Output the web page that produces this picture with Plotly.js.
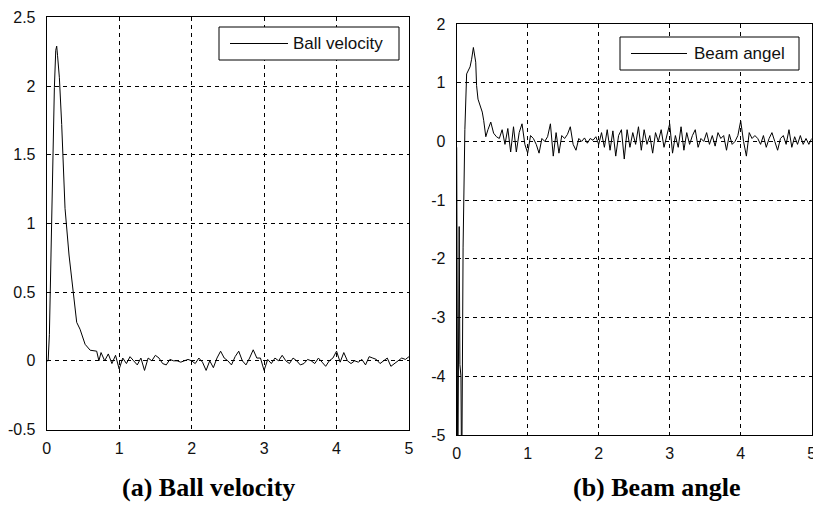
<!DOCTYPE html>
<html>
<head>
<meta charset="utf-8">
<script src="https://cdn.plot.ly/plotly-3.0.1.min.js"></script>
<style>html,body{margin:0;padding:0;background:#fff;}#chart{width:813px;height:513px;}</style>
</head>
<body>
<div id="chart"></div>
<script>
// ---------- data ----------
const ballTime = [0, 0.02, 0.037, 0.055, 0.078, 0.106, 0.125, 0.138, 0.15, 0.175, 0.207, 0.253, 0.308, 0.368, 0.414, 0.46, 0.5, 0.53, 0.6, 0.69, 0.72,
  0.75, 0.8, 0.85, 0.9, 0.95,
  1.0, 1.05, 1.1, 1.15, 1.2, 1.25, 1.3, 1.35, 1.4, 1.45, 1.5, 1.55, 1.6, 1.65, 1.7, 1.75, 1.8, 1.85, 1.9, 1.95,
  2.0, 2.05, 2.1, 2.15, 2.2, 2.25, 2.3, 2.35, 2.4, 2.45, 2.5, 2.55, 2.6, 2.65, 2.7, 2.75, 2.8, 2.85, 2.9, 2.95,
  3.0, 3.05, 3.1, 3.15, 3.2, 3.25, 3.3, 3.35, 3.4, 3.45, 3.5, 3.55, 3.6, 3.65, 3.7, 3.75, 3.8, 3.85, 3.9, 3.95,
  4.0, 4.05, 4.1, 4.15, 4.2, 4.25, 4.3, 4.35, 4.4, 4.45, 4.5, 4.55, 4.6, 4.65, 4.7, 4.75, 4.8, 4.85, 4.9, 4.95, 5.0];
const ballVelocity = [0, 0.0, 0.19, 0.73, 1.43, 1.99, 2.26, 2.29, 2.22, 2.06, 1.72, 1.11, 0.77, 0.48, 0.28, 0.23, 0.16, 0.12, 0.077, 0.07, 0.0,
  0.06, 0.0, 0.05, -0.02, 0.04,
  -0.06, 0.02, -0.02, 0.03, 0.0, -0.03, 0.02, -0.07, 0.02, 0.0, 0.04, 0.02, -0.02, -0.03, 0.01, 0.0, 0.0, -0.01, 0.0, 0.01,
  0.0, -0.02, 0.02, -0.01, -0.07, 0.0, -0.05, 0.02, 0.07, 0.02, 0.0, -0.03, 0.03, 0.07, 0.0, -0.03, 0.02, 0.08, 0.02, 0.02,
  -0.07, 0.01, -0.02, 0.02, 0.0, 0.04, 0.0, -0.02, 0.02, 0.0, -0.03, -0.02, 0.01, 0.0, -0.02, 0.02, -0.01, -0.04, 0.0, 0.02,
  0.07, -0.01, 0.06, 0.0, -0.02, 0.0, -0.01, 0.01, -0.03, 0.03, 0.02, 0.01, -0.02, 0.0, 0.02, -0.04, -0.02, 0.0, 0.02, 0.01, 0.03];

const beamTime = [0, 0.015, 0.035, 0.045, 0.06, 0.07, 0.09, 0.115, 0.14, 0.16, 0.188, 0.21, 0.235, 0.268, 0.28, 0.3, 0.33, 0.36, 0.38, 0.41,
  0.44, 0.48, 0.52, 0.56, 0.6, 0.64, 0.68, 0.72, 0.76, 0.8, 0.84, 0.88, 0.92, 0.96,
  1.0, 1.04, 1.08, 1.12, 1.16, 1.2, 1.24, 1.28, 1.32, 1.36, 1.4, 1.44, 1.48, 1.52, 1.56, 1.6, 1.64, 1.68, 1.72, 1.76, 1.8, 1.84, 1.88, 1.92, 1.96,
  2.0, 2.04, 2.08, 2.12, 2.16, 2.2, 2.24, 2.28, 2.32, 2.36, 2.4, 2.44, 2.48, 2.52, 2.56, 2.6, 2.64, 2.68, 2.72, 2.76, 2.8, 2.84, 2.88, 2.92, 2.96,
  3.0, 3.04, 3.08, 3.12, 3.16, 3.2, 3.24, 3.28, 3.32, 3.36, 3.4, 3.44, 3.48, 3.52, 3.56, 3.6, 3.64, 3.68, 3.72, 3.76, 3.8, 3.84, 3.88, 3.92, 3.96,
  4.0, 4.04, 4.08, 4.12, 4.16, 4.2, 4.24, 4.28, 4.32, 4.36, 4.4, 4.44, 4.48, 4.52, 4.56, 4.6, 4.64, 4.68, 4.72, 4.76, 4.8, 4.84, 4.88, 4.92, 4.96, 5.0];
const beamAngle = [-0.1, -6, -1.45, -3.8, -4.0, -6, -1.8, 0.2, 1.15, 1.2, 1.27, 1.4, 1.6, 1.35, 0.95, 0.72, 0.62, 0.5, 0.36, 0.08,
  0.2, 0.33, 0.14, 0.08, 0.05, 0.2, -0.05, 0.22, -0.18, 0.25, -0.18, 0.15, 0.3, -0.05,
  -0.2, 0.1, 0.05, -0.05, -0.2, 0.05, 0.0, 0.08, 0.3, -0.25, 0.15, -0.2, 0.1, 0.05, 0.12, 0.25, -0.05, -0.15, 0.05, 0.0, 0.06, -0.03, 0.05, 0.02, 0.08,
  -0.05, 0.15, -0.1, 0.2, -0.15, 0.18, -0.25, 0.1, 0.2, -0.3, 0.2, -0.1, 0.15, -0.05, 0.25, -0.15, 0.2, -0.05, 0.1, -0.2, 0.15, 0.0, 0.2, -0.1, 0.1,
  0.3, -0.2, 0.1, -0.1, 0.25, -0.15, 0.15, -0.05, 0.1, 0.2, -0.1, 0.05, 0.0, 0.15, -0.05, 0.1, -0.08, 0.15, 0.05, 0.1, -0.15, 0.12, -0.05, 0.0, 0.1,
  0.35, 0.0, -0.25, 0.15, 0.05, 0.1, 0.05, -0.05, 0.1, -0.1, 0.05, 0.15, 0.0, -0.15, 0.05, 0.1, -0.05, 0.2, -0.1, 0.08, -0.05, 0.1, -0.05, 0.05, -0.05, 0.05];

const xTickVals = [0, 1, 2, 3, 4, 5];
const xTickText = ['0', '1', '2', '3', '4', '5'];
const leftTickVals = [-0.5, 0, 0.5, 1, 1.5, 2, 2.5];
const leftTickText = ['-0.5', '0', '0.5', '1', '1.5', '2', '2.5'];
const rightTickVals = [-5, -4, -3, -2, -1, 0, 1, 2];
const rightTickText = ['-5', '-4', '-3', '-2', '-1', '0', '1', '2'];
const legendNames = ['Ball velocity', 'Beam angel'];
const captions = ['(a) Ball velocity', '(b) Beam angle'];

// ---------- layout helpers (pixel -> paper) ----------
const W = 813, H = 513;
const px = x => x / W;
const py = y => 1 - y / H;

const tickFont = {family: 'Liberation Sans, Arial, sans-serif', size: 16, color: '#111'};

function axisBase() {
  return {
    showline: true, mirror: true, linecolor: '#000', linewidth: 1,
    showgrid: true, gridcolor: '#000', gridwidth: 1, griddash: '4px,4px',
    zeroline: false, ticks: '', tickfont: tickFont, fixedrange: true,
    ticklabeloverflow: 'allow'
  };
}

const traces = [
  {x: ballTime, y: ballVelocity, type: 'scatter', mode: 'lines', xaxis: 'x', yaxis: 'y',
   line: {color: '#000', width: 1}, name: legendNames[0], showlegend: false},
  {x: beamTime, y: beamAngle, type: 'scatter', mode: 'lines', xaxis: 'x2', yaxis: 'y2',
   line: {color: '#000', width: 1}, name: legendNames[1], showlegend: false}
];

const layout = {
  width: W, height: H, autosize: false,
  margin: {l: 0, r: 0, t: 0, b: 0, pad: 0},
  paper_bgcolor: '#fff', plot_bgcolor: '#fff',
  showlegend: false,
  xaxis: Object.assign(axisBase(), {domain: [px(46.7), px(409)], range: [0, 5], tickvals: xTickVals, ticktext: xTickText, anchor: 'y', ticklabelstandoff: 4}),
  yaxis: Object.assign(axisBase(), {domain: [py(429.5), py(17.3)], range: [-0.5, 2.5], tickvals: leftTickVals, ticktext: leftTickText, anchor: 'x', ticklabelstandoff: 7}),
  xaxis2: Object.assign(axisBase(), {domain: [px(456.7), px(811.7)], range: [0, 5], tickvals: xTickVals, ticktext: xTickText, anchor: 'y2', ticklabelstandoff: 4}),
  yaxis2: Object.assign(axisBase(), {domain: [py(435), py(24)], range: [-5, 2], tickvals: rightTickVals, ticktext: rightTickText, anchor: 'x2', ticklabelstandoff: 7}),
  shapes: [
    {type: 'rect', xref: 'paper', yref: 'paper', x0: px(219), x1: px(399), y0: py(60), y1: py(27), line: {color: '#000', width: 1}, fillcolor: '#fff', layer: 'above'},
    {type: 'line', xref: 'paper', yref: 'paper', x0: px(230), x1: px(288), y0: py(43.5), y1: py(43.5), line: {color: '#000', width: 1}, layer: 'above'},
    {type: 'rect', xref: 'paper', yref: 'paper', x0: px(620), x1: px(799), y0: py(70), y1: py(37), line: {color: '#000', width: 1}, fillcolor: '#fff', layer: 'above'},
    {type: 'line', xref: 'paper', yref: 'paper', x0: px(631), x1: px(687), y0: py(53.5), y1: py(53.5), line: {color: '#000', width: 1}, layer: 'above'}
  ],
  annotations: [
    {xref: 'paper', yref: 'paper', x: px(291), y: py(43.5), xanchor: 'left', yanchor: 'middle', showarrow: false,
     text: legendNames[0], font: {family: 'Liberation Sans, Arial, sans-serif', size: 17, color: '#111'}},
    {xref: 'paper', yref: 'paper', x: px(692), y: py(53.5), xanchor: 'left', yanchor: 'middle', showarrow: false,
     text: legendNames[1], font: {family: 'Liberation Sans, Arial, sans-serif', size: 17, color: '#111'}},
    {xref: 'paper', yref: 'paper', x: px(208.7), y: py(487), xanchor: 'center', yanchor: 'middle', showarrow: false,
     text: '<b>' + captions[0] + '</b>', font: {family: 'Liberation Serif, Times New Roman, serif', size: 26, color: '#000'}},
    {xref: 'paper', yref: 'paper', x: px(657), y: py(487), xanchor: 'center', yanchor: 'middle', showarrow: false,
     text: '<b>' + captions[1] + '</b>', font: {family: 'Liberation Serif, Times New Roman, serif', size: 26, color: '#000'}}
  ]
};

Plotly.newPlot('chart', traces, layout, {displayModeBar: false, staticPlot: true});
</script>
</body>
</html>
